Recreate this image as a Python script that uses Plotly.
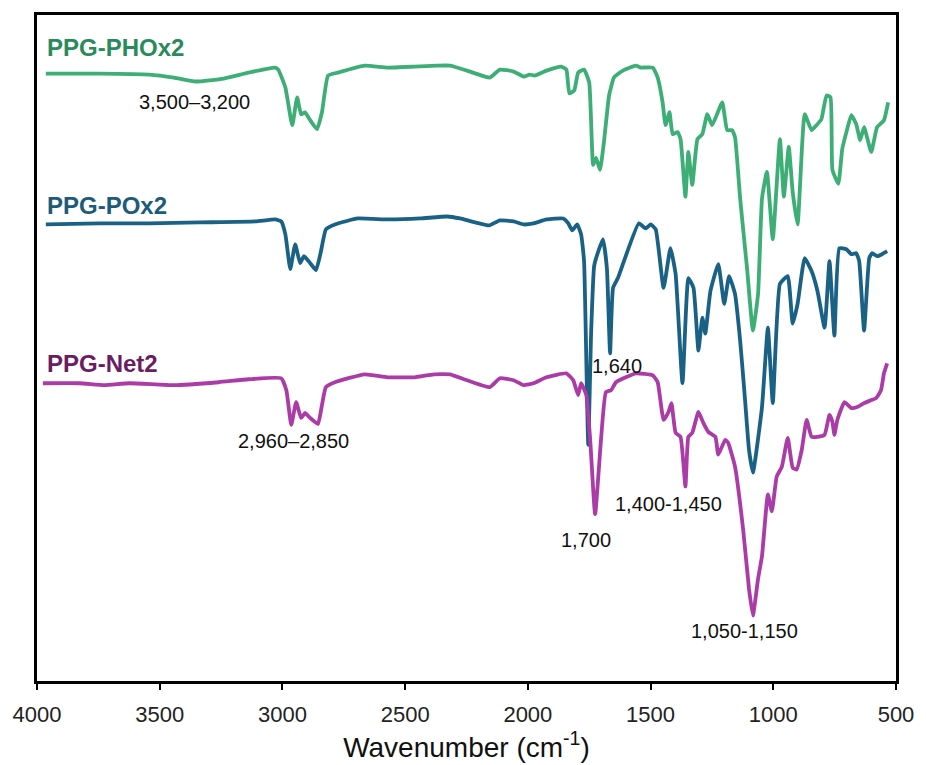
import plotly.graph_objects as go

# FTIR spectra (stacked, arbitrary transmittance units) of the three PPG networks
phox_wn = [3964, 3745, 3543, 3442, 3353, 3239, 3138, 3029, 3017, 2988, 2960, 2940, 2924, 2908, 2887,
           2859, 2839, 2814, 2774, 2665, 2572, 2462, 2369, 2317, 2248, 2155, 2114, 2058, 2017, 1993,
           1973, 1924, 1864, 1843, 1831, 1811, 1795, 1771, 1750, 1734, 1722, 1706, 1690, 1669, 1649,
           1613, 1560, 1540, 1491, 1471, 1451, 1439, 1423, 1410, 1390, 1378, 1358, 1346, 1330, 1309,
           1289, 1269, 1249, 1208, 1188, 1168, 1156, 1135, 1107, 1083, 1062, 1046, 1026, 1002, 973,
           957, 937, 921, 901, 872, 844, 824, 804, 783, 767, 759, 735, 719, 702, 682, 662, 646, 630,
           601, 577, 549, 532]
phox_t = [612, 612, 611, 608, 604, 607, 613, 618, 616, 598, 560, 588, 571, 573, 565,
          556, 573, 610, 613, 620, 618, 619, 620, 620, 615, 608, 616, 614, 609, 611,
          610, 615, 619, 616, 592, 595, 613, 616, 603, 520, 527, 515, 543, 590, 608,
          615, 620, 618, 618, 608, 583, 560, 573, 551, 553, 546, 488, 533, 500, 546,
          551, 571, 560, 583, 555, 555, 548, 486, 416, 353, 390, 486, 513, 445, 546,
          488, 538, 493, 460, 571, 555, 560, 566, 590, 588, 515, 501, 536, 553, 570, 561, 545, 558,
          533, 558, 565, 583]

pox_wn = [3964, 3745, 3543, 3340, 3110, 3029, 3005, 2988, 2968, 2948, 2928, 2912, 2887, 2863, 2843,
          2823, 2786, 2693, 2572, 2438, 2329, 2276, 2159, 2114, 2058, 2017, 1977, 1924, 1856, 1835,
          1819, 1799, 1783, 1771, 1754, 1742, 1730, 1722, 1694, 1678, 1665, 1653, 1633, 1548, 1520,
          1499, 1479, 1447, 1419, 1398, 1370, 1346, 1325, 1305, 1289, 1277, 1256, 1224, 1200, 1180,
          1156, 1135, 1115, 1099, 1083, 1046, 1022, 1002, 973, 941, 921, 901, 872, 844, 820, 791,
          771, 751, 731, 702, 682, 662, 650, 630, 609, 597, 577, 557, 536]
pox_t = [460, 461, 461, 462, 463, 465, 463, 450, 415, 440, 421, 428, 421, 414, 433,
         455, 460, 466, 465, 466, 468, 466, 459, 464, 463, 460, 461, 465, 466, 461,
         454, 460, 450, 423, 238, 353, 418, 426, 445, 416, 330, 396, 406, 461, 456,
         460, 455, 396, 436, 410, 300, 406, 396, 333, 366, 350, 393, 420, 380, 408,
         390, 343, 283, 233, 210, 276, 356, 280, 400, 408, 360, 380, 426, 413, 393, 356,
         423, 348, 436, 435, 430, 431, 423, 353, 426, 431, 428, 430, 433]

net_wn = [3976, 3826, 3725, 3624, 3442, 3260, 3138, 3005, 2984, 2964, 2944, 2924, 2908, 2887, 2855,
          2839, 2823, 2786, 2665, 2572, 2462, 2382, 2317, 2248, 2155, 2114, 2058, 2017, 1977, 1924,
          1843, 1815, 1795, 1783, 1762, 1746, 1726, 1702, 1682, 1661, 1641, 1601, 1560, 1491, 1471,
          1447, 1427, 1415, 1398, 1378, 1358, 1346, 1330, 1305, 1285, 1265, 1236, 1224, 1196, 1184,
          1156, 1123, 1099, 1083, 1062, 1046, 1022, 1006, 986, 965, 941, 921, 905, 884, 864, 844,
          820, 791, 771, 759, 751, 739, 710, 682, 658, 630, 601, 581, 561, 549, 536]
net_t = [300, 300, 298, 300, 298, 301, 304, 305, 293, 258, 281, 265, 270, 265, 259,
         278, 296, 301, 309, 306, 306, 309, 309, 303, 296, 305, 303, 298, 300, 306,
         310, 303, 288, 300, 288, 243, 168, 243, 291, 293, 301, 306, 310, 308, 301,
         263, 271, 280, 250, 246, 196, 246, 250, 271, 260, 251, 246, 228, 243, 240,
         216, 153, 93, 66, 103, 126, 188, 171, 206, 216, 245, 215, 213, 233, 263, 246,
         246, 248, 268, 261, 248, 263, 281, 275, 276, 280, 283, 285, 293, 310, 320]

series = [
    ("PPG-PHOx2", phox_wn, phox_t, "#3cae76", "#2a8a5c", 638),
    ("PPG-POx2", pox_wn, pox_t, "#1a6186", "#1d5b7a", 479),
    ("PPG-Net2", net_wn, net_t, "#ab3ba6", "#6b1d63", 320),
]

# band assignments: (text, wavenumber, level)
bands = [
    ("3,500–3,200", 3357, 583),
    ("2,960–2,850", 2956, 242),
    ("1,640", 1637, 317),
    ("1,700", 1762, 142),
    ("1,400-1,450", 1427, 178),
    ("1,050-1,150", 1119, 50),
]

fig = go.Figure()
for name, wn, t, line_color, label_color, label_y in series:
    fig.add_trace(go.Scatter(x=wn, y=t, mode="lines", name=name,
                             line=dict(color=line_color, width=3.8, shape="spline", smoothing=0.4)))
    fig.add_annotation(x=3968, y=label_y, text=f"<b>{name}</b>", showarrow=False,
                       xanchor="left", yanchor="middle",
                       font=dict(family="Liberation Sans, Arial, sans-serif", size=24, color=label_color))

for text, wn, level in bands:
    fig.add_annotation(x=wn, y=level, text=text, showarrow=False, xanchor="center", yanchor="middle",
                       font=dict(family="Liberation Sans, Arial, sans-serif", size=20, color="#111111"))

fig.update_layout(
    width=926, height=765,
    margin=dict(l=37, r=24, t=12, b=82),
    paper_bgcolor="white", plot_bgcolor="white",
    showlegend=False,
    font=dict(family="Liberation Sans, Arial, sans-serif", color="black"),
)
fig.update_xaxes(
    range=[4000, 500], tickvals=[4000, 3500, 3000, 2500, 2000, 1500, 1000, 500],
    ticks="outside", ticklen=6, tickwidth=2, tickcolor="black",
    showline=True, linecolor="black", linewidth=3, mirror=True,
    showgrid=False, zeroline=False, ticklabelstandoff=6,
    tickfont=dict(size=22, color="#222222"),
    title=dict(text="Wavenumber (cm<sup>-1</sup>)", font=dict(size=28, color="#111111"), standoff=6),
)
fig.update_yaxes(
    range=[0, 671], showticklabels=False, ticks="",
    showline=True, linecolor="black", linewidth=3, mirror=True,
    showgrid=False, zeroline=False,
)

fig.write_html("out.html")
